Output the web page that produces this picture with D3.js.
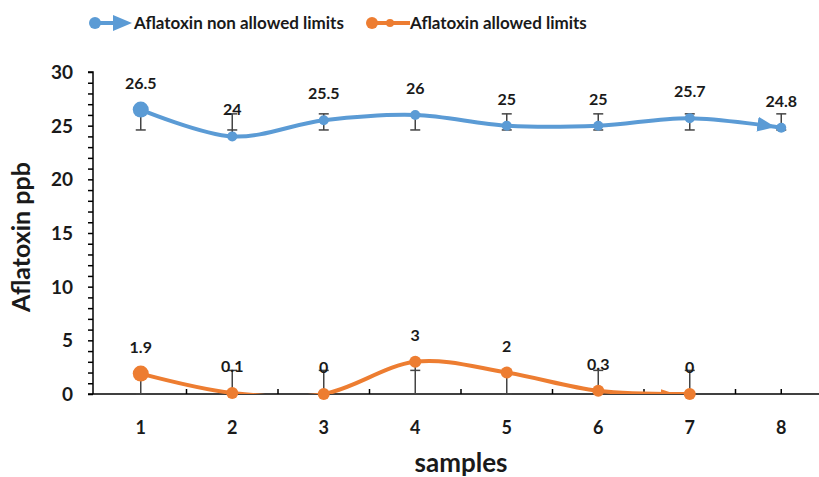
<!DOCTYPE html>
<html>
<head>
<meta charset="utf-8">
<script src="https://cdn.jsdelivr.net/npm/d3@7"></script>
<style>
  body { margin: 0; background: #fff; }
  text { font-family: Lato, "Open Sans", sans-serif; font-weight: bold; fill: #1a1a1a; }
</style>
</head>
<body>
<svg id="chart" width="819" height="477"></svg>
<script>
// values
var samples = [1, 2, 3, 4, 5, 6, 7, 8];
var nonAllowed = [26.5, 24, 25.5, 26, 25, 25, 25.7, 24.8];
var nonAllowedLabels = ["26.5", "24", "25.5", "26", "25", "25", "25.7", "24.8"];
var nonAllowedErrLow = [24.6, 24.6, 24.6, 24.6, 24.6, 24.6, 24.6, 24.6];
var nonAllowedErrHigh = [26.1, 26.1, 26.1, 26.1, 26.1, 26.1, 26.1, 26.1];
var allowed = [1.9, 0.1, 0, 3, 2, 0.3, 0];
var allowedLabels = ["1.9", "0.1", "0", "3", "2", "0.3", "0"];
var allowedErrLow = [0, 0, 0, 0, 0, 0, 0];
var allowedErrHigh = [2.2, 2.2, 2.2, 2.2, 2.2, 2.2, 2.2];
var yTicks = [0, 5, 10, 15, 20, 25, 30];
var xMinorTicks = [1.5, 2.5, 3.5, 4.5, 5.5, 6.5, 7.5, 8];

var blue = "#5b9bd5", orange = "#ed7d31";

var svg = d3.select("#chart");
var x = d3.scaleLinear().domain([0.5, 8.5]).range([95, 827]);
var y = d3.scaleLinear().domain([0, 30]).range([394, 72]);

var defs = svg.append("defs");
// clip so the smoothed orange line doesn't dip under the axis
defs.append("clipPath").attr("id", "plot")
  .append("rect").attr("x", 93).attr("y", 60).attr("width", 730).attr("height", y(0) - 60);

function arrowMarker(id, color, len, half, back) {
  defs.append("marker")
    .attr("id", id)
    .attr("viewBox", "0 " + (-half - 1) + " " + (len + back) + " " + (2 * half + 2))
    .attr("refX", len + back).attr("refY", 0)
    .attr("markerUnits", "userSpaceOnUse")
    .attr("markerWidth", len + back).attr("markerHeight", 2 * half + 2)
    .attr("orient", "auto")
    .append("path").attr("d", "M0," + (-half) + " L" + len + ",0 L0," + half + " Z").attr("fill", color);
}
arrowMarker("arrBlue", blue, 18, 7.5, 6);
arrowMarker("arrOrange", orange, 15, 5, 14);

// y axis
var yAxis = d3.axisLeft(y).tickValues(d3.range(0, 31, 1)).tickSize(5).tickFormat("");
var gy = svg.append("g").attr("transform", "translate(93,0)").call(yAxis);
gy.selectAll("line, path").attr("stroke", "#000").attr("stroke-width", 1.5);
gy.select(".domain").attr("d", "M-5," + y(30) + "H0V" + y(0));
svg.selectAll(".ylab").data(yTicks).enter().append("text")
  .attr("x", 73).attr("y", function(d) { return y(d) + 7; })
  .attr("text-anchor", "end").style("font-size", "19px")
  .text(function(d) { return d; });

// x axis
svg.append("line").attr("x1", 88).attr("x2", 819).attr("y1", y(0)).attr("y2", y(0))
  .attr("stroke", "#000").attr("stroke-width", 1.5);
svg.selectAll(".xt").data(xMinorTicks).enter().append("line")
  .attr("x1", function(d) { return x(d); }).attr("x2", function(d) { return x(d); })
  .attr("y1", y(0)).attr("y2", y(0) - 5).attr("stroke", "#000").attr("stroke-width", 1.5);
svg.selectAll(".xlab").data(samples).enter().append("text")
  .attr("x", function(d) { return x(d); }).attr("y", 434)
  .attr("text-anchor", "middle").style("font-size", "18px")
  .text(function(d) { return d; });

// titles
svg.append("text").attr("x", 461).attr("y", 472).attr("text-anchor", "middle")
  .style("font-size", "26px").text("samples");
svg.append("text").attr("transform", "translate(30,237) rotate(-90)").attr("text-anchor", "middle")
  .style("font-size", "25px").text("Aflatoxin ppb");

function drawSeries(vals, lo, hi, labels, color, marker, bigR, r) {
  var pts = vals.map(function(v, i) { return { x: samples[i], v: v, lo: lo[i], hi: hi[i], lab: labels[i] }; });
  var g = svg.append("g");
  // error bars
  pts.forEach(function(p) {
    var top = Math.max(p.hi, p.v), bot = Math.min(p.lo, p.v);
    g.append("line").attr("x1", x(p.x)).attr("x2", x(p.x)).attr("y1", y(bot)).attr("y2", y(top))
      .attr("stroke", "#444").attr("stroke-width", 1.5);
    [p.lo, p.hi].forEach(function(c) {
      g.append("line").attr("x1", x(p.x) - 5).attr("x2", x(p.x) + 5).attr("y1", y(c)).attr("y2", y(c))
        .attr("stroke", "#444").attr("stroke-width", 1.5);
    });
  });
  var line = d3.line().x(function(p) { return x(p.x); }).y(function(p) { return y(p.v); })
    .curve(d3.curveCardinal.tension(0));
  g.append("path").attr("d", line(pts)).attr("fill", "none").attr("stroke", color)
    .attr("stroke-width", 4).attr("clip-path", "url(#plot)").attr("marker-end", "url(#" + marker + ")");
  g.selectAll("circle").data(pts).enter().append("circle")
    .attr("cx", function(p) { return x(p.x); }).attr("cy", function(p) { return y(p.v); })
    .attr("r", function(p, i) { return i === 0 ? bigR : r; }).attr("fill", color);
  g.selectAll("text").data(pts).enter().append("text")
    .attr("x", function(p) { return x(p.x); }).attr("y", function(p) { return y(p.v) - 21; })
    .attr("text-anchor", "middle").style("font-size", "16px")
    .text(function(p) { return p.lab; });
}
drawSeries(nonAllowed, nonAllowedErrLow, nonAllowedErrHigh, nonAllowedLabels, blue, "arrBlue", 8, 5);
drawSeries(allowed, allowedErrLow, allowedErrHigh, allowedLabels, orange, "arrOrange", 8, 6);

// legend
var lg = svg.append("g");
lg.append("line").attr("x1", 95).attr("x2", 118).attr("y1", 23).attr("y2", 23).attr("stroke", blue).attr("stroke-width", 4);
lg.append("circle").attr("cx", 95).attr("cy", 23).attr("r", 6).attr("fill", blue);
lg.append("path").attr("d", "M113,15 L132,23 L113,31 Z").attr("fill", blue);
lg.append("text").attr("x", 134).attr("y", 29).style("font-size", "17px").text("Aflatoxin non allowed limits");
lg.append("line").attr("x1", 372).attr("x2", 410).attr("y1", 23).attr("y2", 23).attr("stroke", orange).attr("stroke-width", 4);
lg.append("circle").attr("cx", 372).attr("cy", 23).attr("r", 6).attr("fill", orange);
lg.append("circle").attr("cx", 390).attr("cy", 23).attr("r", 4).attr("fill", orange);
lg.append("text").attr("x", 410).attr("y", 29).style("font-size", "17px").text("Aflatoxin allowed limits");
</script>
</body>
</html>
